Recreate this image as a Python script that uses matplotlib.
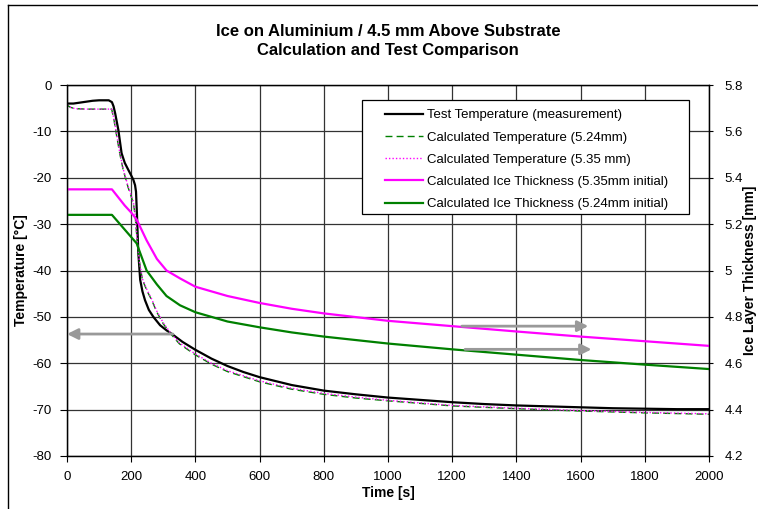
import matplotlib
matplotlib.use('Agg')
import matplotlib.pyplot as plt
from matplotlib.lines import Line2D
from matplotlib.patches import Rectangle

plt.rcParams['font.family'] = ['Liberation Sans', 'DejaVu Sans']
plt.rcParams['axes.unicode_minus'] = False

# measured temperature
t_meas = [0, 20, 50, 80, 100, 130, 140, 145, 150, 160, 170, 180, 191, 200, 207, 212,
          215, 218, 222, 228, 235, 243, 255, 269, 290, 310, 331, 360, 400, 450, 500,
          550, 600, 700, 800, 900, 1000, 1100, 1200, 1300, 1400, 1500, 1600, 1700,
          1800, 1900, 2000]
T_meas = [-4.0, -4.0, -3.7, -3.4, -3.3, -3.3, -3.7, -4.6, -6.1, -9.7, -14.7, -16.8,
          -18.3, -19.5, -20.5, -21.6, -23.0, -28.0, -36.0, -42.0, -44.5, -46.4, -48.5,
          -50.0, -51.8, -52.9, -53.9, -55.4, -57.1, -59.0, -60.6, -61.9, -63.0, -64.7,
          -65.9, -66.7, -67.4, -67.9, -68.4, -68.8, -69.1, -69.3, -69.5, -69.7, -69.8,
          -69.9, -69.9]

# calculated temperatures
t_calc = [0, 10, 25, 60, 100, 139, 145, 150, 155, 165, 175, 190, 207, 212, 218, 225,
          235, 250, 264, 280, 300, 321, 350, 400, 450, 500, 600, 700, 800, 900, 1000,
          1200, 1400, 1600, 1800, 2000]
T_calc_524 = [-4.3, -4.8, -5.1, -5.2, -5.2, -5.2, -7.0, -9.0, -11.1, -15.0, -18.3,
              -22.0, -25.5, -28.0, -33.0, -38.0, -42.0, -44.5, -46.4, -49.0, -51.5,
              -53.5, -55.8, -58.2, -60.2, -61.8, -64.0, -65.6, -66.7, -67.5, -68.1,
              -69.2, -69.8, -70.3, -70.7, -71.0]
T_calc_535 = [-4.3, -4.8, -5.1, -5.2, -5.2, -5.2, -6.9, -8.8, -10.9, -14.8, -18.1,
              -21.8, -25.3, -27.8, -32.8, -37.8, -41.8, -44.3, -46.2, -48.8, -51.3,
              -53.3, -55.6, -58.0, -60.0, -61.6, -63.8, -65.4, -66.5, -67.3, -68.0,
              -69.1, -69.7, -70.2, -70.6, -70.9]

# calculated ice thickness
t_ice_535 = [0, 140, 180, 200, 217, 248, 280, 310, 352, 400, 500, 600, 700, 800, 1000,
             1200, 1400, 1600, 1800, 2000]
h_ice_535 = [5.35, 5.35, 5.28, 5.25, 5.22, 5.13, 5.05, 5.0, 4.966, 4.93, 4.89, 4.86,
             4.835, 4.815, 4.783, 4.76, 4.737, 4.715, 4.695, 4.675]
t_ice_524 = [0, 140, 217, 248, 280, 310, 352, 400, 500, 600, 700, 800, 1000, 1200,
             1400, 1600, 1800, 2000]
h_ice_524 = [5.24, 5.24, 5.117, 5.0, 4.94, 4.89, 4.85, 4.82, 4.78, 4.755, 4.733, 4.715,
             4.685, 4.66, 4.637, 4.614, 4.594, 4.575]

labels = ['Test Temperature (measurement)',
          'Calculated Temperature (5.24mm)',
          'Calculated Temperature (5.35 mm)',
          'Calculated Ice Thickness (5.35mm initial)',
          'Calculated Ice Thickness (5.24mm initial)']

x_ticks = list(range(0, 2001, 200))
temp_ticks = list(range(-80, 1, 10))
ice_ticks = [4.2, 4.4, 4.6, 4.8, 5.0, 5.2, 5.4, 5.6, 5.8]
ice_tick_labels = ['4.2', '4.4', '4.6', '4.8', '5', '5.2', '5.4', '5.6', '5.8']

fig = plt.figure(figsize=(7.58, 5.09), dpi=100)
ax = fig.add_axes([67/758, 53/509, 642/758, 371/509])
ax2 = ax.twinx()

l1, = ax.plot(t_meas, T_meas, color='black', lw=1.6)
l2, = ax.plot(t_calc, T_calc_524, color='#008000', lw=1.0, ls=(0, (5, 3)))
l3, = ax.plot(t_calc, T_calc_535, color='#ff00ff', lw=1.0, ls=(0, (1, 1.5)))
l4, = ax2.plot(t_ice_535, h_ice_535, color='#ff00ff', lw=1.6)
l5, = ax2.plot(t_ice_524, h_ice_524, color='#008000', lw=1.6)

ax.set_xlim(0, 2000)
ax.set_ylim(-80, 0)
ax2.set_ylim(4.2, 5.8)
ax.set_xticks(x_ticks)
ax.set_yticks(temp_ticks)
ax2.set_yticks(ice_ticks)
ax2.set_yticklabels(ice_tick_labels)
ax.grid(True, color='#333333', lw=0.9)
ax.set_axisbelow(True)
for a in (ax, ax2):
    for s in a.spines.values():
        s.set_color('black')
        s.set_linewidth(0.9)
ax.tick_params(axis='x', direction='out', length=4, pad=7, labelsize=9.5)
ax.tick_params(axis='y', direction='out', length=5, pad=6, labelsize=9.5)
ax2.tick_params(axis='y', direction='out', length=3, pad=8, labelsize=9.5)

ax.set_xlabel('Time [s]', fontsize=10, fontweight='bold', labelpad=2)
fig.text(21/758, 1 - 270/509, 'Temperature [°C]', rotation=90,
         ha='center', va='center', fontsize=10, fontweight='bold')
fig.text(750/758, 1 - 270/509, 'Ice Layer Thickness [mm]', rotation=90,
         ha='center', va='center', fontsize=10, fontweight='bold')

fig.text(388/758, 1 - 32/509, 'Ice on Aluminium / 4.5 mm Above Substrate',
         ha='center', va='center', fontsize=12, fontweight='bold')
fig.text(388/758, 1 - 51/509, 'Calculation and Test Comparison',
         ha='center', va='center', fontsize=12, fontweight='bold')

# arrows showing which axis each group belongs to
arrow = dict(arrowstyle='-|>', color='#999999', lw=2, mutation_scale=16,
             shrinkA=0, shrinkB=0)
ax2.annotate('', xy=(0, -53.7), xytext=(330, -53.7), xycoords=ax.transData,
             textcoords=ax.transData, arrowprops=arrow, zorder=4)
ax2.annotate('', xy=(1624, -52.0), xytext=(1230, -52.0), xycoords=ax.transData,
             textcoords=ax.transData, arrowprops=arrow, zorder=4)
ax2.annotate('', xy=(1634, -57.0), xytext=(1240, -57.0), xycoords=ax.transData,
             textcoords=ax.transData, arrowprops=arrow, zorder=4)

# legend box
ax2.add_patch(Rectangle((295/642, 242/371), 327/642, 114/371, transform=ax2.transAxes,
                        facecolor='white', edgecolor='black', lw=0.9, zorder=5))
leg = ax2.legend([l1, l2, l3, l4, l5], labels, loc='upper left',
                 bbox_to_anchor=(318/642, 347/371), frameon=False, fontsize=9.5,
                 borderpad=0, borderaxespad=0, handlelength=2.9, handletextpad=0.3,
                 labelspacing=0.76)
leg.set_zorder(6)

# chart border
fig.add_artist(Line2D([8/758, 1], [1 - 5/509, 1 - 5/509], transform=fig.transFigure,
                      color='black', lw=1))
fig.add_artist(Line2D([8/758, 8/758], [0, 1 - 5/509], transform=fig.transFigure,
                      color='black', lw=1))

fig.savefig('out.png', dpi=100)
